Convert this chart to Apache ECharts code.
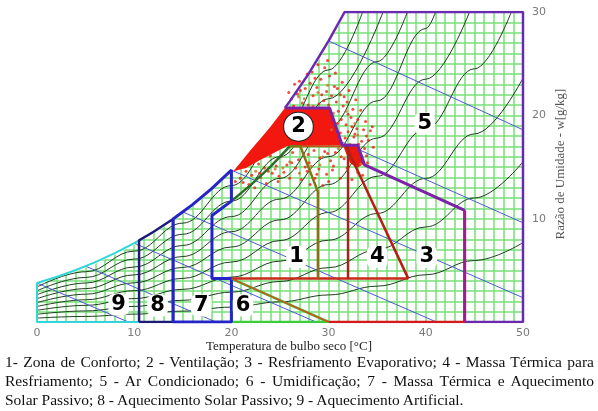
<!doctype html>
<html lang="pt">
<head>
<meta charset="UTF-8">
<title>Carta bioclimática</title>
<script src="https://cdn.jsdelivr.net/npm/echarts/dist/echarts.min.js"></script>
<style>
  html, body { margin: 0; padding: 0; background: #fff; }
  #main { position: absolute; left: 0; top: 0; width: 598px; height: 411px; }
  #legenda { position: absolute; left: 5px; top: 352px; width: 589px; font: 15.5px/19px "Liberation Serif", serif; color: #111; }
  #legenda div { text-align: justify; text-align-last: justify; white-space: nowrap; }
  #legenda div.ultima { text-align-last: left; }
</style>
</head>
<body>
<div id="main"></div>
<div id="legenda">
  <div>1- Zona de Conforto; 2 - Ventilação; 3 - Resfriamento Evaporativo; 4 - Massa Térmica para</div>
  <div>Resfriamento; 5 - Ar Condicionado; 6 - Umidificação; 7 - Massa Térmica e Aquecimento</div>
  <div class="ultima">Solar Passivo; 8 - Aquecimento Solar Passivo; 9 - Aquecimento Artificial.</div>
</div>
<script type="text/javascript">
// curva de saturação [temperatura °C, w g/kg]
var saturacao = [[0,3.77],[2,4.36],[4,5.03],[6,5.79],[8,6.66],[10,7.63],[12,8.73],[14,9.97],[16,11.36],[18,12.93],[20,14.7],[22,16.67],[24,18.88],[26,21.35],[28,24.1],[30,27.2],[31.65,30]];

// curvas de umidade relativa (10% ... 90%)
var ur10 = [[0,0.38],[5,0.54],[10,0.76],[15,1.05],[20,1.44],[25,1.95],[30,2.62],[35,3.47],[40,4.57],[45,5.95],[50,7.68]];
var ur20 = [[0,0.75],[5,1.07],[10,1.51],[15,2.1],[20,2.89],[25,3.92],[30,5.26],[35,6.99],[40,9.2],[45,12.0],[50,15.5]];
var ur30 = [[0,1.13],[5,1.61],[10,2.27],[15,3.16],[20,4.34],[25,5.89],[30,7.92],[35,10.5],[40,13.9],[45,18.2],[50,23.6]];
var ur40 = [[0,1.5],[5,2.15],[10,3.03],[15,4.22],[20,5.8],[25,7.88],[30,10.6],[35,14.1],[40,18.7],[45,24.5],[48.8,30]];
var ur50 = [[0,1.88],[5,2.69],[10,3.79],[15,5.28],[20,7.26],[25,9.88],[30,13.3],[35,17.8],[40,23.5],[44.5,30]];
var ur60 = [[0,2.26],[5,3.23],[10,4.56],[15,6.34],[20,8.74],[25,11.9],[30,16.0],[35,21.4],[40,28.4],[41,30]];
var ur70 = [[0,2.64],[5,3.77],[10,5.32],[15,7.41],[20,10.2],[25,13.9],[30,18.8],[35,25.2],[38.1,30]];
var ur80 = [[0,3.02],[5,4.31],[10,6.09],[15,8.49],[20,11.7],[25,16.0],[30,21.6],[35.6,30]];
var ur90 = [[0,3.39],[5,4.86],[10,6.86],[15,9.57],[20,13.2],[25,18.0],[30,24.4],[33.5,30]];

// linhas de bulbo úmido (0, 5, ... 30 °C)
var bu0 = [[0,3.77],[9.4,0]];
var bu5 = [[5,5.4],[18.4,0]];
var bu10 = [[10,7.63],[28.7,0]];
var bu15 = [[15,10.65],[41.1,0]];
var bu20 = [[20,14.7],[50,2.35]];
var bu25 = [[25,20.08],[50,9.6]];
var bu30 = [[30,27.2],[50,18.6]];

// contornos das zonas
var zona9 = [[10.5,0],[0,0],[0,3.77],[2,4.36],[4,5.03],[6,5.79],[8,6.66],[10,7.63],[10.5,7.9]];
var zona8 = [[10.5,0],[10.5,7.9],[12,8.73],[14,9.97],[14,0],[10.5,0]];
var zona7 = [[14,0],[14,9.97],[16,11.36],[18,12.93],[20,14.7],[20,11.7],[18,10.3],[18,4.2],[20,4.2],[20,0],[14,0]];
var zona6 = [[20,0],[20,4.2],[30,0],[20,0]];
var conforto = [[20,11.7],[22,13.27],[24,15.02],[26,17.0]];
var confortoDir = [[26,17.0],[27.1,17.0],[28.9,12.6],[28.9,4.2]];
var base42 = [[20,4.2],[38.2,4.2]];
var diagonal6 = [[20,4.2],[30,0]];
var topo17 = [[27.1,17.0],[32,17.0]];
var zona4esq = [[32,17.0],[32,4.2]];
var zona4dir = [[31.8,17.0],[38.2,4.2]];
var zona3 = [[30,0],[44,0],[44,10.8]];
var zona5 = [[25.5,20.7],[26,21.35],[28,24.1],[30,27.2],[31.65,30],[50,30],[50,0],[44,0]];
var zona5limite = [[25.5,20.7],[30.1,20.7],[31.4,17.1],[33,17.1],[33.7,15.2],[44,10.8]];
var zona3x44 = [[44,0],[44,10.8]];

// manchas de pontos densos
var mancha = [[20.2,14.6],[21,15.5],[22,16.67],[23,17.75],[24,18.88],[25.5,20.7],[30.1,20.7],[31.4,17.1],[25.7,17.0],[23,15.7],[21.5,14.9]];
var mancha2 = [[31.5,17.0],[33.0,17.0],[33.6,15.3],[32.9,14.9],[32.2,15.4]];

// pontos horários
var pontosVermelhos = [[26.2,21.6],[26.8,22.1],[27.3,21.2],[27.6,22.6],[28.1,23.1],[28.4,21.9],[28.8,22.7],[29.2,23.5],[29.5,21.4],[29.8,22.3],[30.1,23.8],[30.3,21.9],[30.6,22.8],[27.9,21.0],[29.0,21.1],[30.8,21.3],[31.0,20.4],[31.3,19.6],[31.5,20.9],[31.8,19.1],[32.0,18.4],[32.3,19.8],[32.6,17.9],[32.9,18.7],[33.2,16.6],[31.2,18.3],[30.9,19.2],[31.7,17.8],[32.1,16.3],[32.8,15.9],[33.4,17.5],[33.9,16.1],[31.6,15.8],[30.7,16.4],[30.2,15.6],[29.6,16.5],[29.1,15.9],[28.5,16.6],[28.0,15.4],[27.4,16.3],[26.9,15.7],[26.3,16.4],[25.7,15.2],[25.1,16.0],[24.6,15.1],[24.0,16.1],[23.4,14.9],[22.8,15.3],[22.1,14.2],[21.5,14.6],[20.9,13.9],[20.4,13.6],[21.8,13.3],[23.0,14.0],[24.2,14.4],[25.4,14.5],[26.6,14.9],[27.8,14.6],[29.0,14.8],[30.4,14.7],[31.9,14.9],[33.0,14.5],[28.6,13.9],[30.0,13.6],[27.2,13.8],[25.9,22.2],[27.0,23.3],[28.3,24.2],[29.6,24.6],[31.2,22.0],[31.9,21.3],[32.5,20.6],[33.0,19.6],[33.6,18.6],[34.1,17.6],
  [26.5,23.0],[27.8,24.0],[28.9,24.9],[29.9,25.3],[30.7,24.1],[31.4,23.2],[32.1,22.4],[32.8,21.5],[33.3,20.5],[33.8,19.4],[34.3,18.5],[34.6,16.9],[34.0,15.4],[33.5,14.2],[32.4,13.8],[31.2,13.9],[29.4,13.2],[28.1,13.3],[26.0,13.9],[24.8,13.6],[23.6,13.4],[22.4,13.0],[26.4,20.9],[27.1,22.4],[28.6,23.6],[29.3,22.0],[30.0,21.0],[30.9,22.6],[31.6,21.8],[32.4,18.9],[32.0,20.1],[33.1,17.2],[33.7,16.8],[32.5,16.6],[31.3,16.0],[30.5,15.1],[29.8,14.3],[28.8,14.3],[27.6,15.0],[26.2,15.4],[24.9,14.1],[23.8,14.6],[22.9,14.4],[21.2,13.5],[27.9,16.2],[29.9,16.3],[30.9,17.6],[32.7,18.2],[33.9,18.0],[34.5,18.9]];
var pontosLaranja = [[27.5,21.6],[28.9,22.2],[30.5,20.2],[32.2,17.2],[29.4,16.0],[26.0,15.5],[24.5,14.8],[31.0,16.8],[33.3,15.3],[28.2,15.1],[22.5,14.6],[29.9,22.9],[32.7,19.2],[27.0,14.4],[30.3,18.6],[31.8,20.4],[28.4,20.9],[26.9,21.8],[33.0,18.1],[29.1,15.2],[25.3,14.9]];

// rótulos das zonas [texto, temperatura, w]
var rotulos = [['1',26.7,6.3],['2',26.9,18.9],['3',40.1,6.3],['4',35.0,6.3],['5',39.9,19.2],['6',21.2,1.6],['7',16.9,1.6],['8',12.4,1.6],['9',8.4,1.7]];

var chart = echarts.init(document.getElementById('main'));

function linha(dados, cor, largura, z, suave) {
    return {
        type: 'line', data: dados, symbol: 'none', silent: true, z: z,
        smooth: suave ? 0.4 : false, smoothMonotone: suave ? 'x' : undefined,
        lineStyle: { color: cor, width: largura }
    };
}

function poligono(pontos, cor, z, borda) {
    return {
        type: 'custom', silent: true, z: z, data: [[0, 0]],
        renderItem: function (params, api) {
            var pts = pontos.map(function (p) { return api.coord(p); });
            return {
                type: 'polygon', shape: { points: pts },
                style: { fill: cor, stroke: borda ? cor : null, lineWidth: borda || 0 }
            };
        }
    };
}

var verdeGrade = '#78e078';
var series = [];

// máscara branca acima da curva de saturação
series.push(poligono(saturacao.concat([[0, 30]]), '#ffffff', 1, 3));

[ur10, ur20, ur30, ur40, ur50, ur60, ur70, ur80, ur90].forEach(function (c) {
    series.push(linha(c, '#1e3c1e', 1, 2, true));
});
[bu0, bu5, bu10, bu15, bu20, bu25, bu30].forEach(function (c) {
    series.push(linha(c, '#4a5ad0', 1, 2, false));
});

series.push(poligono(mancha, '#f21810', 4));
series.push(poligono(mancha2, '#e81a10', 4));
series.push({
    type: 'scatter', data: pontosVermelhos, symbolSize: 3, silent: true, z: 5,
    itemStyle: { color: '#ee2010' }
});
series.push({
    type: 'scatter', data: pontosLaranja, symbolSize: 3, silent: true, z: 5,
    itemStyle: { color: '#c8702a' }
});

series.push(linha(zona9, '#33d6d6', 2, 6));
series.push(linha(zona8, '#1c1c78', 2.5, 6));
series.push(linha(zona7, '#2424c8', 3, 7));
series.push(linha(zona6, '#3ccc3c', 2.5, 6));
series.push(linha(diagonal6, '#d0501c', 1.5, 7));
series.push(linha(base42, '#c82a1a', 2.5, 6));
series.push(linha(conforto, '#2a6e2a', 2.5, 6));
series.push(linha(confortoDir, '#857416', 2.5, 7));
series.push(linha(topo17, '#c0541c', 2, 6));
series.push(linha(zona4esq, '#a4261a', 2.5, 6));
series.push(linha(zona4dir, '#b81c14', 2.5, 6));
series.push(linha(zona3, '#d41a1a', 2.5, 6));
series.push(linha(zona5, '#6a2ab0', 2.5, 8));
series.push(linha(zona5limite, '#7a22a8', 3, 8));
series.push(linha(zona3x44, '#a8188e', 3, 9));

series.push({
    type: 'scatter', silent: true, z: 20, symbolSize: 1,
    itemStyle: { color: 'rgba(0,0,0,0)' },
    data: rotulos.map(function (r) {
        var item = { value: [r[1], r[2]], name: r[0] };
        if (r[0] === '2') {
            item.label = { borderColor: '#222', borderWidth: 1, borderRadius: 15, padding: [4, 7, 3, 7] };
        }
        return item;
    }),
    label: {
        show: true, position: 'inside', formatter: '{b}',
        fontFamily: 'DejaVu Sans', fontSize: 21, fontWeight: 'bold', color: '#000',
        textBorderWidth: 0, opacity: 1,
        backgroundColor: '#ffffff', borderRadius: 6, padding: [1, 3, 0, 3]
    }
});

var option = {
    animation: false,
    grid: { left: 37, right: 75, top: 12, bottom: 89 },
    xAxis: {
        type: 'value', min: 0, max: 50, interval: 10,
        axisLine: { show: false }, axisTick: { show: false },
        axisLabel: { margin: 6, fontFamily: 'DejaVu Sans', fontSize: 11, color: '#7a7a7a' },
        splitLine: { show: true, lineStyle: { color: verdeGrade, width: 1.5 } },
        minorTick: { show: false, splitNumber: 10 },
        minorSplitLine: { show: true, lineStyle: { color: verdeGrade, width: 1.5 } }
    },
    yAxis: {
        type: 'value', position: 'right', min: 0, max: 30, interval: 10,
        axisLine: { show: false }, axisTick: { show: false },
        axisLabel: {
            margin: 9, fontFamily: 'DejaVu Sans', fontSize: 11, color: '#7a7a7a',
            formatter: function (v) { return v === 0 ? '' : v; }
        },
        splitLine: { show: true, lineStyle: { color: verdeGrade, width: 1.5 } },
        minorTick: { show: false, splitNumber: 10 },
        minorSplitLine: { show: true, lineStyle: { color: verdeGrade, width: 1.5 } }
    },
    graphic: [
        {
            type: 'text', x: 289, y: 347,
            style: { text: 'Temperatura de bulbo seco [°C]', font: '13px "Liberation Serif"', fill: '#222', align: 'center', verticalAlign: 'middle' }
        },
        {
            type: 'text', x: 561, y: 164, rotation: Math.PI / 2,
            style: { text: 'Razão de Umidade - w[g/kg]', font: '13px "Liberation Serif"', fill: '#555', align: 'center', verticalAlign: 'middle' }
        }
    ],
    series: series
};

chart.setOption(option);
</script>
</body>
</html>
